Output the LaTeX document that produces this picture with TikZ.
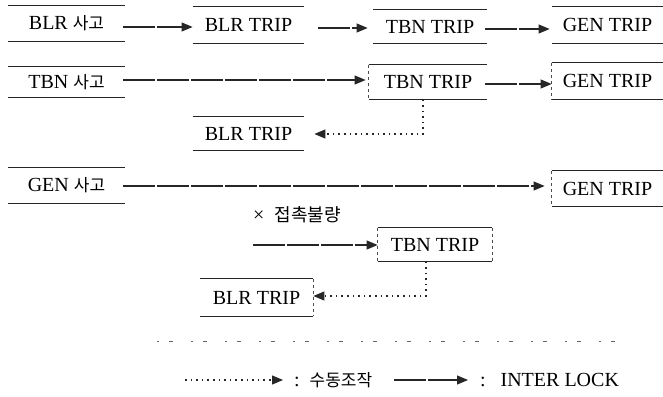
\documentclass[tikz,border=0pt]{standalone}
\usepackage{fontspec}
\setmainfont{Liberation Serif}
\newfontfamily\cjk{Noto Sans CJK KR}
\usetikzlibrary{arrows.meta}

\begin{document}
\begin{tikzpicture}[
    x=0.5pt, y=-0.5pt,
    boxline/.style={draw=black!85, line width=0.5pt},
    sideline/.style={draw=black!70, line width=0.4pt, dash pattern=on 1.5pt off 1.5pt},
    box/.style={
        inner sep=0pt,
        font=\fontsize{10}{12}\selectfont,
        append after command={
            (\tikzlastnode.north west) edge[boxline] (\tikzlastnode.north east)
            (\tikzlastnode.south west) edge[boxline] (\tikzlastnode.south east)
        }
    },
    lside/.style={append after command={
        (\tikzlastnode.north west) edge[sideline] (\tikzlastnode.south west)}},
    rside/.style={append after command={
        (\tikzlastnode.north east) edge[sideline] (\tikzlastnode.south east)}},
    cause/.style={box, minimum width=58.5pt},
    trip/.style={box, minimum width=55.5pt},
    hangul/.style={font=\cjk\fontsize{8.5}{10}\selectfont},
    tip/.style={-{Triangle[length=5.5pt, width=4.5pt]}},
    interlock/.style={tip, draw=black!85, line width=0.55pt, dash pattern=on 16pt off 1pt},
    manual/.style={tip, draw=black!85, line width=0.6pt, dash pattern=on 0.8pt off 2pt}
]
\useasboundingbox (0,0) rectangle (663,396);

% ===== Row 1 =====
\node[cause, minimum height=17.5pt] (a1) at (66.5,23.5) {BLR {\cjk\fontsize{8.5}{10}\selectfont 사고}};
\node[trip, minimum height=18pt]    (b1) at (248.5,25)  {BLR TRIP};
\node[trip, minimum height=16.5pt, minimum width=57pt] (c1) at (430,26.5) {TBN TRIP};
\node[trip, minimum height=18pt]    (d1) at (607.5,25)  {GEN TRIP};

% ===== Row 2 =====
\node[cause, minimum height=15pt]   (a2) at (66.5,82)   {TBN {\cjk\fontsize{8.5}{10}\selectfont 사고}};
\node[trip, lside, minimum height=17pt, minimum width=59pt] (c2) at (428,82) {TBN TRIP};
\node[trip, lside, minimum height=18pt] (d2) at (607.5,81) {GEN TRIP};
\node[trip, minimum height=16.5pt]  (b2) at (248.5,133.5) {BLR TRIP};

% ===== Row 3 =====
\node[cause, minimum height=17.5pt] (a3) at (66.5,185.5) {GEN {\cjk\fontsize{8.5}{10}\selectfont 사고}};
\node[trip, lside, minimum height=17.5pt] (d3) at (607.5,188.5) {GEN TRIP};
\node[hangul] (fault) at (297,215) {\fontspec{Liberation Serif}\fontsize{10}{12}\selectfont ×\ \ \cjk\fontsize{9}{10}\selectfont 접촉불량};
\coordinate (s3) at (253,245);
\node[trip, lside, rside, minimum height=16.5pt, minimum width=57pt] (c3) at (435,244.5) {TBN TRIP};
\node[trip, rside, minimum height=18.5pt, minimum width=56.5pt] (b3) at (256.5,297.5) {BLR TRIP};

% ===== Row 1 Arrows =====
\draw[interlock, shorten <=-1pt, shorten >=0pt] (a1.east |- 0,27) -- (b1.west |- 0,27);
\draw[interlock, shorten <=7pt, shorten >=2.5pt] (b1.east |- 0,28) -- (c1.west |- 0,28);
\draw[interlock, shorten <=-1pt, shorten >=1pt] (c1.east |- 0,29) -- (d1.west |- 0,29);

% ===== Row 2 Arrows =====
\draw[interlock, shorten <=-1pt, shorten >=1.5pt] (a2.east |- 0,80) -- (c2.west |- 0,80);
\draw[interlock, shorten <=-1pt, shorten >=0pt] (c2.east |- 0,84) -- (d2.west |- 0,84);
\draw[manual, shorten >=5pt] (c2.south -| 423,0) -- (423,134) -- (b2.east |- 0,134);

% ===== Row 3 Arrows =====
\draw[interlock, shorten <=-1pt, shorten >=3.5pt] (a3.east |- 0,186) -- (d3.west |- 0,186);
\draw[interlock] (s3) -- (c3.west |- s3);
\draw[manual, shorten >=0pt] (c3.south -| 426,0) -- (426,296) -- (b3.east |- 0,296);

% ===== Separator =====
\draw[black!60, line width=0.4pt, dash pattern=on 1pt off 5pt on 2pt off 9pt] (157,341) -- (625,341);

% ===== Legend =====
\coordinate (m0) at (185,380);
\node[anchor=west, font=\fontsize{10}{12}\selectfont] (mlab) at (287,380) {:\ \ {\cjk\fontsize{8.5}{10}\selectfont 수동조작}};
\draw[manual, shorten >=2pt] (m0) -- (mlab.west);
\coordinate (i0) at (394,380);
\node[anchor=west, font=\fontsize{10}{12}\selectfont] (ilab) at (473,380) {:\ \ \ INTER LOCK};
\draw[interlock, shorten >=2.5pt] (i0) -- (ilab.west);

\end{tikzpicture}
\end{document}
